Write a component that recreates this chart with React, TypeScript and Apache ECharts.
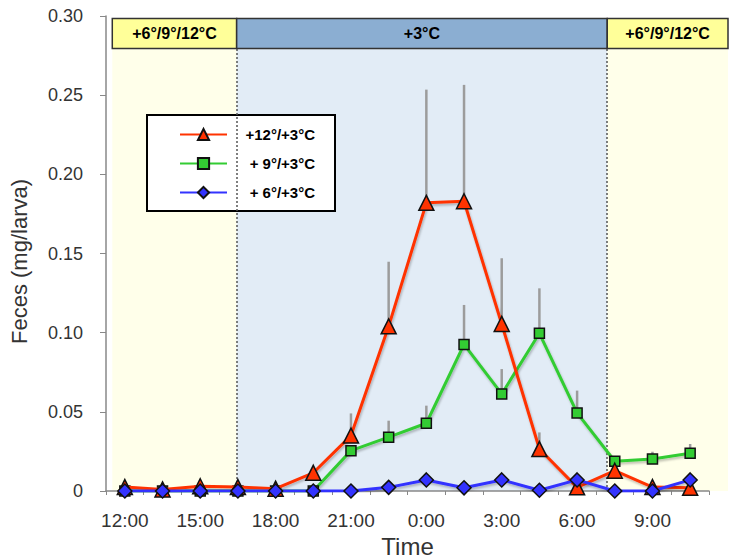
import React, { useEffect, useRef } from "react";
import * as echarts from "echarts";

const times = ["12:00", "13:30", "15:00", "16:30", "18:00", "19:30", "21:00", "22:30", "0:00", "1:30", "3:00", "4:30", "6:00", "7:30", "9:00", "10:30"];

const red12 = [0.0025, 0.001, 0.003, 0.0025, 0.0015, 0.0115, 0.035, 0.104, 0.182, 0.183, 0.1055, 0.0265, 0.0023, 0.0128, 0.0025, 0.002];
const green9 = [0, 0, 0, 0, 0, 0, 0.0255, 0.034, 0.0428, 0.0926, 0.0613, 0.0996, 0.0493, 0.0188, 0.0202, 0.0238];
const blue6 = [0, 0, 0, 0, 0, 0, 0, 0.0023, 0.007, 0.002, 0.007, 0.0005, 0.007, 0, 0, 0.007];

// upper ends of error bars (null = none visible)
const red12Upper = [null, null, null, null, null, null, 0.049, 0.1448, 0.2535, 0.2565, 0.147, 0.037, null, null, null, null];
const green9Upper = [null, null, null, null, null, null, null, 0.0444, 0.0539, 0.1175, 0.077, 0.128, 0.0634, null, 0.0248, 0.0297];

// phases in hours (12 = 12:00, 24 = 0:00, ...)
const phaseStart = 11.5;
const phaseCold = 16.45;
const phaseWarm = 31.2;
const phaseLabels = ["+6°/9°/12°C", "+3°C", "+6°/9°/12°C"];
const bandTop = 0.2985;
const bandBottom = 0.2795;

const seriesNames = ["+12°/+3°C", "+ 9°/+3°C", "+ 6°/+3°C"];

const FONT = "'Liberation Sans', Arial, Helvetica, sans-serif";

export default function App() {
  const ref = useRef<HTMLDivElement>(null);
  useEffect(() => {
    if (!ref.current) return;
    const chart = echarts.init(ref.current, undefined, { renderer: "svg" });

    const errData = (vals: number[], upper: (number | null)[]) =>
      vals
        .map((v, i) => (upper[i] == null ? null : [i, v, upper[i] as number]))
        .filter((d) => d !== null);

    const errSeries = (vals: number[], upper: (number | null)[]) => ({
      type: "custom",
      xAxisIndex: 0,
      yAxisIndex: 0,
      z: 4,
      silent: true,
      renderItem: (_p: any, api: any) => {
        const x = api.value(0);
        const a = api.coord([x, api.value(1)]);
        const b = api.coord([x, api.value(2)]);
        return {
          type: "line",
          shape: { x1: a[0], y1: a[1], x2: b[0], y2: b[1] },
          style: { stroke: "#9c9c9c", lineWidth: 2.5 },
        };
      },
      encode: { x: 0, y: [1, 2] },
      data: errData(vals, upper),
    });

    const bandLabel = { show: true, position: "inside", fontFamily: FONT, fontWeight: "bold", fontSize: 16, color: "#000" };
    const bandStyleY = { color: "#FFFF99", borderColor: "#333", borderWidth: 1.5 };
    const bandStyleB = { color: "#8BAED2", borderColor: "#333", borderWidth: 1.5 };
    const shadow = { shadowColor: "rgba(0,0,0,0.25)", shadowBlur: 2, shadowOffsetX: 1, shadowOffsetY: 2 };

    chart.setOption({
      animation: false,
      backgroundColor: "#fff",
      textStyle: { fontFamily: FONT },
      grid: { left: 106, right: 22, top: 16, bottom: 69, containLabel: false, outerBoundsMode: "none" },
      legend: {
        orient: "vertical",
        left: 147,
        top: 115,
        data: seriesNames,
        backgroundColor: "#fff",
        borderColor: "#000",
        borderWidth: 2,
        borderRadius: 0,
        padding: [12, 20, 11, 32],
        itemWidth: 47,
        itemHeight: 14,
        itemGap: 14,
        formatter: (n: string) => `{t|${n}}`,
        textStyle: {
          rich: { t: { width: 83, align: "right", fontFamily: FONT, fontWeight: "bold", fontSize: 15, color: "#000" } },
        },
      },
      xAxis: [
        {
          type: "category",
          data: times,
          boundaryGap: true,
          z: 3,
          name: "Time",
          nameLocation: "middle",
          nameGap: 43,
          nameTextStyle: { fontSize: 24, color: "#333", fontFamily: FONT },
          axisLine: { lineStyle: { color: "#888", width: 1.5 } },
          axisTick: { show: true, interval: 0, length: 4, lineStyle: { color: "#888" } },
          axisLabel: { interval: 1, fontSize: 19, color: "#333", margin: 20, fontFamily: FONT },
          splitLine: { show: false },
        },
        {
          type: "value",
          min: 11.25,
          max: 35.25,
          show: false,
        },
      ],
      yAxis: {
        type: "value",
        min: 0,
        max: 0.3,
        interval: 0.05,
        z: 3,
        name: "Feces (mg/larva)",
        nameLocation: "middle",
        nameGap: 76,
        nameTextStyle: { fontSize: 22, color: "#333", fontFamily: FONT, padding: [0, 16, 0, 0] },
        axisLine: { show: true, lineStyle: { color: "#888", width: 1.5 } },
        axisTick: { show: true, length: 6, lineStyle: { color: "#888" } },
        axisLabel: {
          fontSize: 18,
          color: "#333",
          margin: 23,
          fontFamily: FONT,
          formatter: (v: number) => (v === 0 ? "0" : v.toFixed(2)),
        },
        splitLine: { show: false },
      },
      series: [
        {
          type: "line",
          name: "phases",
          xAxisIndex: 1,
          yAxisIndex: 0,
          data: [],
          z: 1,
          silent: true,
          markArea: {
            silent: true,
            data: [
              [
                { xAxis: phaseStart, yAxis: 0, itemStyle: { color: "#FFFFEA" }, label: { show: false } },
                { xAxis: phaseCold, yAxis: bandBottom },
              ],
              [
                { xAxis: phaseCold, yAxis: 0, itemStyle: { color: "#E2ECF6" }, label: { show: false } },
                { xAxis: phaseWarm, yAxis: bandBottom },
              ],
              [
                { xAxis: phaseWarm, yAxis: 0, itemStyle: { color: "#FFFFEA" }, label: { show: false } },
                { x: 728, yAxis: bandBottom },
              ],
              [
                { xAxis: phaseStart, yAxis: bandBottom, itemStyle: bandStyleY, label: bandLabel, name: phaseLabels[0] },
                { xAxis: phaseCold, yAxis: bandTop },
              ],
              [
                { xAxis: phaseCold, yAxis: bandBottom, itemStyle: bandStyleB, label: bandLabel, name: phaseLabels[1] },
                { xAxis: phaseWarm, yAxis: bandTop },
              ],
              [
                { xAxis: phaseWarm, yAxis: bandBottom, itemStyle: bandStyleY, label: bandLabel, name: phaseLabels[2] },
                { x: 728, yAxis: bandTop },
              ],
            ],
          },
          markLine: {
            silent: true,
            symbol: "none",
            label: { show: false },
            lineStyle: { color: "#555", type: [2, 2], width: 1.5 },
            data: [
              [
                { xAxis: phaseCold, yAxis: 0 },
                { xAxis: phaseCold, yAxis: bandBottom },
              ],
              [
                { xAxis: phaseWarm, yAxis: 0 },
                { xAxis: phaseWarm, yAxis: bandBottom },
              ],
            ],
          },
        },
        errSeries(red12, red12Upper),
        errSeries(green9, green9Upper),
        {
          type: "line",
          name: seriesNames[1],
          data: green9,
          z: 5,
          symbol: "rect",
          symbolSize: 10,
          lineStyle: { color: "#33CC33", width: 3, ...shadow },
          itemStyle: { color: "#33CC33", borderColor: "#111", borderWidth: 1.5 },
        },
        {
          type: "line",
          name: seriesNames[0],
          data: red12,
          z: 6,
          symbol: "triangle",
          symbolSize: 15,
          lineStyle: { color: "#FF3300", width: 3, ...shadow },
          itemStyle: { color: "#FF3300", borderColor: "#111", borderWidth: 1.5 },
        },
        {
          type: "line",
          name: seriesNames[2],
          data: blue6,
          z: 7,
          symbol: "diamond",
          symbolSize: 14,
          lineStyle: { color: "#3333FF", width: 3, ...shadow },
          itemStyle: { color: "#3333FF", borderColor: "#111", borderWidth: 1.5 },
        },
      ],
    });
    return () => chart.dispose();
  }, []);
  return <div ref={ref} style={{ position: "fixed", left: 0, top: 0, width: 731, height: 560 }} />;
}
